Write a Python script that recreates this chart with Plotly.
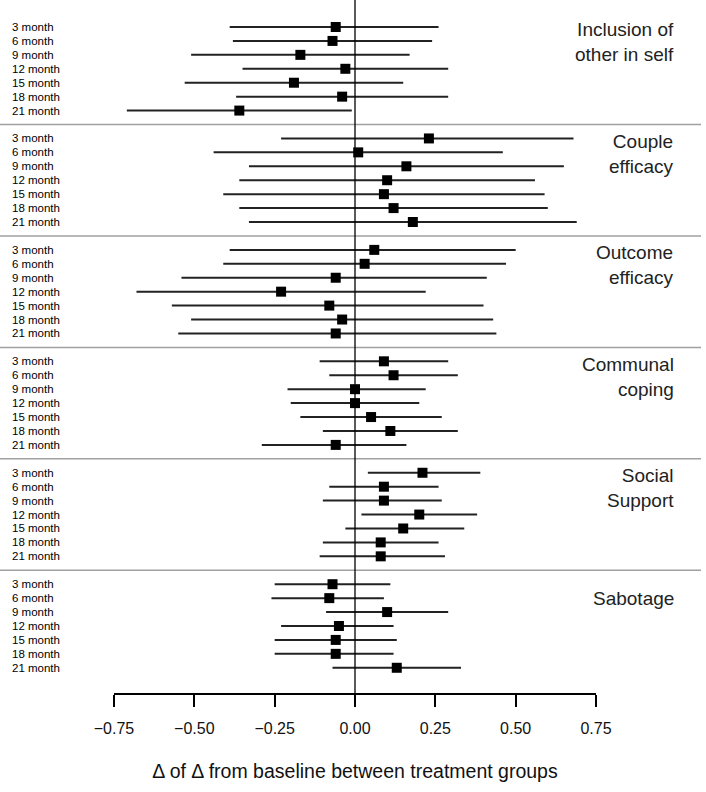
import plotly.graph_objects as go

timepoints = ["3 month", "6 month", "9 month", "12 month", "15 month", "18 month", "21 month"]
outcomes = ["Inclusion of<br>other in self", "Couple<br>efficacy", "Outcome<br>efficacy",
            "Communal<br>coping", "Social<br>Support", "Sabotage"]

incl_est = [-0.06, -0.07, -0.17, -0.03, -0.19, -0.04, -0.36]
incl_lo = [-0.39, -0.38, -0.51, -0.35, -0.53, -0.37, -0.71]
incl_hi = [0.26, 0.24, 0.17, 0.29, 0.15, 0.29, -0.01]

couple_est = [0.23, 0.01, 0.16, 0.10, 0.09, 0.12, 0.18]
couple_lo = [-0.23, -0.44, -0.33, -0.36, -0.41, -0.36, -0.33]
couple_hi = [0.68, 0.46, 0.65, 0.56, 0.59, 0.60, 0.69]

outcome_est = [0.06, 0.03, -0.06, -0.23, -0.08, -0.04, -0.06]
outcome_lo = [-0.39, -0.41, -0.54, -0.68, -0.57, -0.51, -0.55]
outcome_hi = [0.50, 0.47, 0.41, 0.22, 0.40, 0.43, 0.44]

communal_est = [0.09, 0.12, 0.00, 0.00, 0.05, 0.11, -0.06]
communal_lo = [-0.11, -0.08, -0.21, -0.20, -0.17, -0.10, -0.29]
communal_hi = [0.29, 0.32, 0.22, 0.20, 0.27, 0.32, 0.16]

social_est = [0.21, 0.09, 0.09, 0.20, 0.15, 0.08, 0.08]
social_lo = [0.04, -0.08, -0.10, 0.02, -0.03, -0.10, -0.11]
social_hi = [0.39, 0.26, 0.27, 0.38, 0.34, 0.26, 0.28]

sabotage_est = [-0.07, -0.08, 0.10, -0.05, -0.06, -0.06, 0.13]
sabotage_lo = [-0.25, -0.26, -0.09, -0.23, -0.25, -0.25, -0.07]
sabotage_hi = [0.11, 0.09, 0.29, 0.12, 0.13, 0.12, 0.33]

tick_vals = [-0.75, -0.50, -0.25, 0.00, 0.25, 0.50, 0.75]
tick_text = ["\u22120.75", "\u22120.50", "\u22120.25", "0.00", "0.25", "0.50", "0.75"]
x_title = "\u0394 of \u0394 from baseline between treatment groups"

panels = [
    (incl_est, incl_lo, incl_hi),
    (couple_est, couple_lo, couple_hi),
    (outcome_est, outcome_lo, outcome_hi),
    (communal_est, communal_lo, communal_hi),
    (social_est, social_lo, social_hi),
    (sabotage_est, sabotage_lo, sabotage_hi),
]

FONT = "Arial, Liberation Sans, sans-serif"
W, H = 706, 792
ML, MR, MT, MB = 114, 110, 0, 99
PW = W - ML - MR
ROW = 13.93
Y0 = 27.0  # pixel of first row centre
y_top = -Y0 / ROW
y_bot = (H - MB - Y0) / ROW


def px_to_paper_x(px):
    return (px - ML) / PW


fig = go.Figure()
annotations = []
shapes = []

for k, (est, lo, hi) in enumerate(panels):
    ys = [8 * k + i for i in range(len(timepoints))]
    fig.add_trace(go.Scatter(
        x=est, y=ys, mode="markers",
        marker=dict(symbol="square", size=10, color="black"),
        error_x=dict(type="data", symmetric=False,
                     array=[h - e for h, e in zip(hi, est)],
                     arrayminus=[e - l for e, l in zip(est, lo)],
                     width=0, thickness=2, color="#222222"),
        showlegend=False, hoverinfo="skip", cliponaxis=False,
    ))
    for i, lab in enumerate(timepoints):
        annotations.append(dict(
            x=px_to_paper_x(10), xref="paper", y=ys[i], yref="y",
            text=lab, showarrow=False, xanchor="left", yanchor="middle",
            font=dict(family=FONT, size=11.5, color="#000000"),
        ))
    title_y = 8 * k + (1.0 if "<br>" not in outcomes[k] else 1.1)
    annotations.append(dict(
        x=px_to_paper_x(676), xref="paper", y=title_y, yref="y",
        text=outcomes[k], showarrow=False, xanchor="right", yanchor="middle",
        align="right", font=dict(family=FONT, size=19, color="#222222"),
    ))
    if k < len(panels) - 1:
        shapes.append(dict(
            type="line", xref="paper", yref="y",
            x0=px_to_paper_x(0), x1=px_to_paper_x(701),
            y0=8 * k + 7, y1=8 * k + 7,
            line=dict(color="#a0a0a0", width=1.5),
        ))

# vertical reference line at zero
shapes.append(dict(type="line", xref="x", yref="paper", x0=0, x1=0, y0=0, y1=1,
                   line=dict(color="black", width=1.3), layer="above"))

fig.update_layout(
    width=W, height=H,
    margin=dict(l=ML, r=MR, t=MT, b=MB, pad=0),
    paper_bgcolor="white", plot_bgcolor="white",
    showlegend=False,
    annotations=annotations,
    shapes=shapes,
    xaxis=dict(
        range=[-0.75, 0.75], showgrid=False, zeroline=False,
        showline=True, linecolor="black", linewidth=1.5,
        ticks="outside", ticklen=12, tickwidth=1.5, tickcolor="black",
        tickvals=tick_vals, ticktext=tick_text,
        tickfont=dict(family=FONT, size=16, color="#111111"),
        ticklabelstandoff=8,
        title=dict(text=x_title, font=dict(family=FONT, size=19.5, color="#111111"),
                   standoff=28),
        fixedrange=True,
    ),
    yaxis=dict(
        range=[y_bot, y_top], showgrid=False, zeroline=False, showline=False,
        showticklabels=False, ticks="", fixedrange=True,
    ),
    font=dict(family=FONT),
)

fig.write_html("out.html")
